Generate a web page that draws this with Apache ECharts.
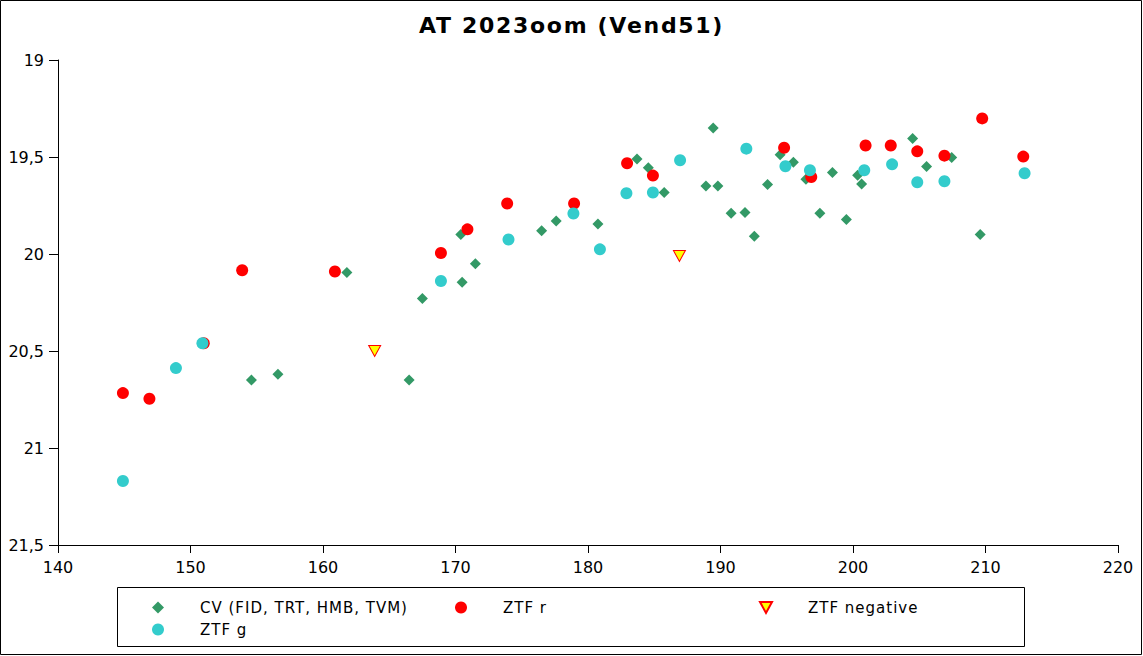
<!DOCTYPE html>
<html>
<head>
<meta charset="utf-8">
<script src="https://cdn.jsdelivr.net/npm/echarts@6/dist/echarts.min.js"></script>
<style>
html,body{margin:0;padding:0;background:#fff;}
#chart{width:1143px;height:656px;}
</style>
</head>
<body>
<div id="chart"></div>
<script>
// CV (FID, TRT, HMB, TVM): [day, mag]
var cvData = [
  [154.6,20.65],[156.6,20.62],[161.8,20.095],[166.5,20.65],[167.5,20.23],
  [170.4,19.90],[170.5,20.145],[171.5,20.05],[176.5,19.88],[177.6,19.83],
  [180.75,19.845],[183.7,19.51],[184.55,19.555],[185.75,19.683],[188.9,19.65],
  [189.45,19.35],[189.8,19.65],[190.8,19.79],[191.85,19.786],[192.55,19.908],
  [193.55,19.642],[194.5,19.488],[195.5,19.527],[196.45,19.615],[197.5,19.79],
  [198.45,19.58],[199.5,19.822],[200.35,19.594],[200.65,19.639],[204.5,19.405],
  [205.55,19.549],[207.45,19.503],[209.6,19.899]
];
// ZTF r
var ztfR = [
  [144.9,20.717],[146.9,20.746],[151.0,20.46],[153.9,20.084],[160.9,20.09],
  [168.9,19.995],[170.9,19.873],[173.9,19.74],[178.95,19.74],[182.95,19.532],
  [184.9,19.596],[194.8,19.452],[196.85,19.603],[200.95,19.441],[202.85,19.441],
  [204.85,19.471],[206.9,19.493],[209.75,19.301],[212.85,19.498]
];
// ZTF negative (upper limits)
var ztfNeg = [
  [163.9,20.5],[186.9,20.01]
];
// ZTF g
var ztfG = [
  [144.9,21.17],[148.9,20.588],[150.9,20.46],[168.9,20.139],[174.0,19.925],
  [178.9,19.791],[180.9,19.976],[182.9,19.687],[184.9,19.683],[186.95,19.517],
  [191.95,19.457],[194.9,19.548],[196.75,19.568],[200.85,19.568],[202.95,19.538],
  [204.85,19.63],[206.9,19.625],[212.95,19.584]
];
var titleText = 'AT 2023oom (Vend51)';
var seriesNames = ['CV (FID, TRT, HMB, TVM)', 'ZTF r', 'ZTF negative', 'ZTF g'];
var xTicks = {min:140, max:220, interval:10};
var yTicks = {min:19, max:21.5, interval:0.5};

var FONT = 'DejaVu Sans';
var chart = echarts.init(document.getElementById('chart'), null, {renderer:'svg'});
var downTri = 'path://M0,0 L10,0 L5,9 Z';

function legendItem(name, left, top){
  return {
    data:[name], left:left, top:top, orient:'horizontal',
    itemWidth:12, itemHeight:12, padding:0, symbolKeepAspect:true,
    textStyle:{fontFamily:FONT, fontSize:15, color:'#000', padding:[0,0,0,31]},
    selectedMode:false
  };
}

chart.on('finished', function(){
  var spacing = {};
  spacing[titleText] = '1.7px';
  seriesNames.forEach(function(n){ spacing[n] = '1px'; });
  var texts = document.querySelectorAll('#chart text');
  texts.forEach(function(t){
    var s = spacing[t.textContent];
    if (s) t.setAttribute('letter-spacing', s);
  });
});

chart.setOption({
  animation:false,
  backgroundColor:'#fff',
  title:{
    text:titleText, left:'center', top:9,
    textStyle:{fontFamily:FONT, fontSize:22, fontWeight:'bold', color:'#000'}
  },
  grid:{left:58, right:25, top:60, bottom:111, containLabel:false},
  xAxis:{
    type:'value', min:xTicks.min, max:xTicks.max, interval:xTicks.interval,
    axisLine:{show:true, onZero:false, lineStyle:{color:'#000', width:1}},
    axisTick:{show:true, length:8, lineStyle:{color:'#000'}},
    axisLabel:{fontFamily:FONT, fontSize:16, color:'#000', margin:14},
    splitLine:{show:false}
  },
  yAxis:{
    type:'value', inverse:true, min:yTicks.min, max:yTicks.max, interval:yTicks.interval,
    axisLine:{show:true, onZero:false, lineStyle:{color:'#000', width:1}},
    axisTick:{show:true, length:9, lineStyle:{color:'#000'}},
    axisLabel:{fontFamily:FONT, fontSize:16, color:'#000', margin:14,
      formatter:function(v){return String(v).replace('.', ',');}},
    splitLine:{show:false}
  },
  legend:[
    legendItem(seriesNames[0], 152, 600),
    legendItem(seriesNames[1], 455, 600),
    legendItem(seriesNames[2], 759, 600),
    legendItem(seriesNames[3], 152, 622)
  ],
  graphic:[
    {type:'rect', shape:{x:117.5, y:587.5, width:907, height:59},
     style:{fill:null, stroke:'#000', lineWidth:1}, silent:true, z:-1},
    {type:'rect', shape:{x:0.5, y:0.5, width:1141, height:654},
     style:{fill:null, stroke:'#000', lineWidth:1}, silent:true, z:-1}
  ],
  series:[
    {name:seriesNames[0], type:'scatter', data:cvData,
     symbol:'diamond', symbolSize:11, itemStyle:{color:'#339966', opacity:1}, z:2},
    {name:seriesNames[1], type:'scatter', data:ztfR,
     symbol:'circle', symbolSize:12, itemStyle:{color:'#ff0000', opacity:1}, z:3},
    {name:seriesNames[2], type:'scatter', data:ztfNeg,
     symbol:downTri, symbolSize:[12,11], itemStyle:{color:'#ffff00', borderColor:'#ff0000', borderWidth:1, opacity:1}, z:4},
    {name:seriesNames[3], type:'scatter', data:ztfG,
     symbol:'circle', symbolSize:12, itemStyle:{color:'#33cccc', opacity:1}, z:5}
  ]
});
</script>
</body>
</html>
